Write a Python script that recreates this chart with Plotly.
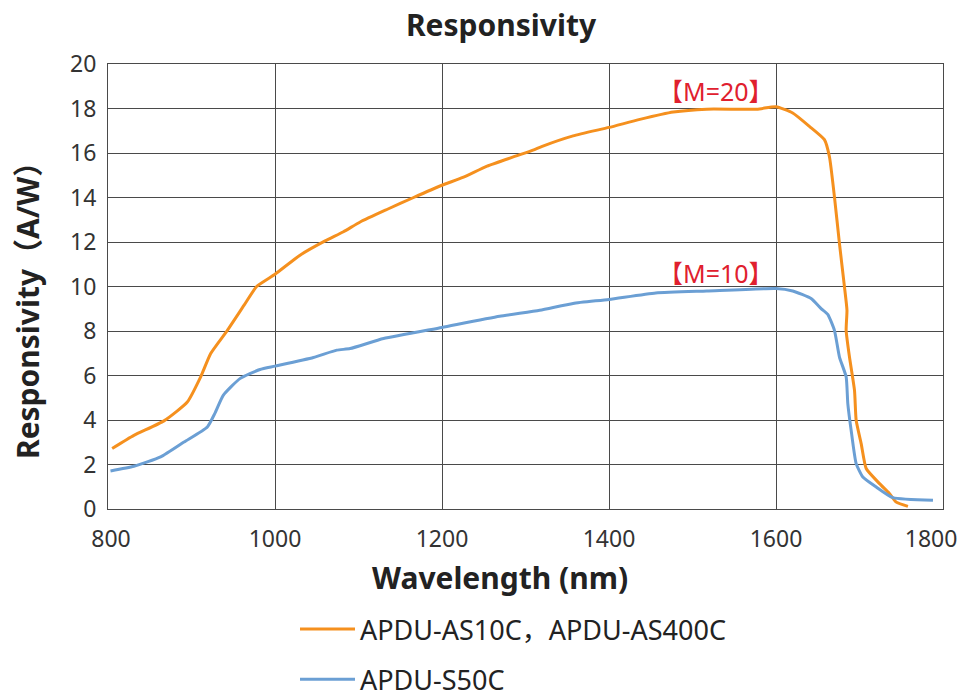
import plotly.graph_objects as go

# APDU-AS10C, APDU-AS400C (M=20)
wl_as = [805, 831, 867, 895, 911, 923, 943, 963, 978, 1000, 1030, 1060, 1082, 1102, 1134,
         1166, 1200, 1225, 1254, 1289, 1309, 1320, 1357, 1400, 1437, 1477, 1517, 1577, 1600,
         1620, 1640, 1658, 1664, 1670, 1676, 1682, 1685, 1684, 1688, 1694, 1696, 1702, 1708,
         1724, 1736, 1744, 1758]
r_as = [2.72, 3.31, 3.96, 4.81, 5.94, 6.99, 8.03, 9.16, 10.0, 10.55, 11.41, 12.05, 12.46, 12.9, 13.46,
        14.0, 14.55, 14.9, 15.41, 15.87, 16.13, 16.3, 16.77, 17.15, 17.51, 17.84, 17.97, 17.97, 18.08,
        17.8, 17.2, 16.6, 15.83, 14.03, 11.93, 9.98, 8.93, 8.03, 6.83, 5.34, 3.99, 2.94, 1.82,
        1.14, 0.69, 0.31, 0.12]

# APDU-S50C (M=10)
wl_s = [803, 831, 863, 891, 919, 928, 938, 958, 982, 1000, 1046, 1074, 1090, 1130, 1200, 1269,
        1317, 1357, 1400, 1456, 1517, 1600, 1620, 1642, 1654, 1662, 1670, 1676, 1684, 1686,
        1690, 1696, 1704, 1720, 1740, 1788]
r_s = [1.71, 1.92, 2.34, 3.01, 3.69, 4.3, 5.11, 5.86, 6.27, 6.42, 6.81, 7.14, 7.21, 7.66, 8.16, 8.66,
       8.93, 9.24, 9.42, 9.71, 9.80, 9.91, 9.8, 9.46, 9.01, 8.75, 8.03, 6.83, 5.94, 4.74,
       3.54, 2.04, 1.44, 0.99, 0.51, 0.39]

series_names = ["APDU-AS10C，APDU-AS400C", "APDU-S50C"]
gain_labels = ["【M=20】", "【M=10】"]
gain_pos_x = [1528, 1528]
gain_pos_y = [18.78, 10.62]
x_ticks = [800, 1000, 1200, 1400, 1600, 1800]
x_tick_text = ["\u00a0800", "1000", "1200", "1400", "1600", "1800\u00a0\u00a0\u00a0\u00a0"]
y_ticks = [0, 2, 4, 6, 8, 10, 12, 14, 16, 18, 20]

FONT = "Noto Sans, Noto Sans CJK SC, sans-serif"
ORANGE = "#F5901E"
BLUE = "#6B9FD4"
GRID = "#4a4a4a"

W, H = 957, 687          # page has an 8px body margin
L, T, R, B = 100, 56, 21.5, 186
PW, PH = W - L - R, H - T - B

fig = go.Figure()
fig.add_trace(go.Scatter(x=wl_as, y=r_as, mode="lines", name=series_names[0],
                         legendgroup="a", line=dict(color=ORANGE, width=3, shape="spline", smoothing=0.5)))
fig.add_trace(go.Scatter(x=wl_s, y=r_s, mode="lines", name=series_names[1],
                         legendgroup="b", line=dict(color=BLUE, width=3, shape="spline", smoothing=0.5)))

fig.update_layout(
    width=W, height=H,
    margin=dict(l=L, r=R, t=T, b=B, autoexpand=False),
    paper_bgcolor="white", plot_bgcolor="white",
    font=dict(family=FONT, color="#333333", size=23),
    title=dict(text="<b>Responsivity</b>", x=493 / W, xanchor="center",
               y=1 - 17 / H, yanchor="middle", automargin=False,
               font=dict(size=30, color="#222222", family=FONT)),
    showlegend=True,
    legend=dict(xref="container", yref="container", x=287 / W, xanchor="left",
                y=1 - 597 / H, yanchor="top", orientation="v",
                font=dict(size=27, color="#222222", family=FONT), itemwidth=55,
                tracegroupgap=12, bgcolor="rgba(0,0,0,0)"),
    xaxis=dict(range=[800, 1800], tickvals=x_ticks, ticktext=x_tick_text,
               showgrid=True, gridcolor=GRID, gridwidth=1,
               showline=True, linecolor=GRID, linewidth=1, mirror=True, zeroline=False,
               automargin=False, ticklabeloverflow="allow",
               ticks="", tickfont=dict(size=23, color="#333333"), ticklabelstandoff=9),
    yaxis=dict(range=[0, 20], tickvals=y_ticks, showgrid=True, gridcolor=GRID, gridwidth=1,
               showline=True, linecolor=GRID, linewidth=1, mirror=True, zeroline=False,
               automargin=False, ticklabeloverflow="allow",
               ticks="", tickfont=dict(size=23, color="#333333"), ticklabelstandoff=6),
)

fig.add_annotation(text="<b>Wavelength (nm)</b>", xref="paper", yref="paper",
                   x=(492 - L) / PW, y=(H - B - 569) / PH, xanchor="center", yanchor="middle",
                   showarrow=False, font=dict(size=30, color="#222222", family=FONT))
fig.add_annotation(text="<b>Responsivity（A/W）</b>", xref="paper", yref="paper",
                   x=(19 - L) / PW, y=(H - B - 295) / PH, xanchor="center", yanchor="middle",
                   textangle=-90, showarrow=False, font=dict(size=30, color="#222222", family=FONT))
for lbl, gx, gy in zip(gain_labels, gain_pos_x, gain_pos_y):
    fig.add_annotation(text=lbl, x=gx, y=gy, showarrow=False,
                       font=dict(size=25, color="#E0202E", family=FONT))

fig.write_html("out.html")
